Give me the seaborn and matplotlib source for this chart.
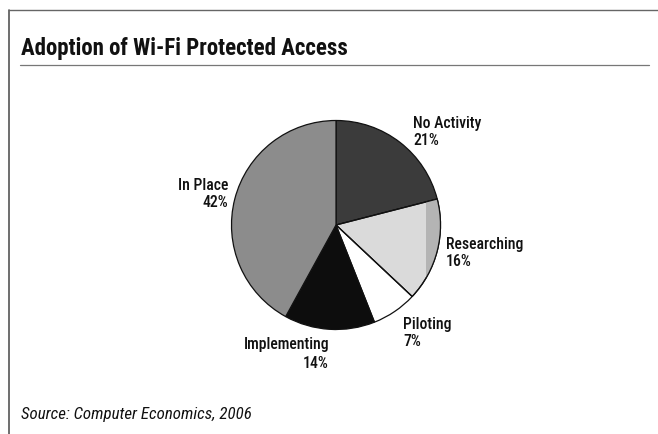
import matplotlib
matplotlib.use("Agg")
import matplotlib.pyplot as plt
from matplotlib import font_manager
from matplotlib.font_manager import FontProperties
from matplotlib.lines import Line2D
from matplotlib.patches import Rectangle
import seaborn as sns

# Survey shares, listed clockwise from 12 o'clock
categories = ["No Activity", "Researching", "Piloting", "Implementing", "In Place"]
shares = [21, 16, 7, 14, 42]
slice_colors = ["#3b3b3b", "#dadada", "#ffffff", "#0d0d0d", "#8c8c8c"]

title = "Adoption of Wi-Fi Protected Access"
source = "Source: Computer Economics, 2006"

sns.set_theme(style="white")

# pick a narrow grotesque face for all text
NARROW = ["Nimbus Sans Narrow", "Liberation Sans Narrow", "Roboto Condensed",
          "PT Sans Narrow", "Arial Narrow", "Archivo Narrow", "Barlow Semi Condensed",
          "Asap Condensed"]


def narrow_font(weight=400, style="normal", size=11):
    fonts = font_manager.fontManager.ttflist
    for fam in NARROW:
        cands = [f for f in fonts if f.name == fam]
        if not cands:
            continue
        same_style = [f for f in cands if f.style == style] or cands
        best = min(same_style, key=lambda f: abs(int(f.weight) - weight)
                   if str(f.weight).isdigit() else 999)
        return FontProperties(fname=best.fname, size=size)
    return FontProperties(family="DejaVu Sans", weight=weight, style=style,
                          stretch="condensed", size=size)


W, H = 658, 434
fig = plt.figure(figsize=(W / 100, H / 100), dpi=100)
fig.patch.set_facecolor("white")
ax = fig.add_axes([0, 0, 1, 1])

# pie: y is flipped below, so start at -90 and run counterclockwise in data
cx, cy, r = 336, 225, 104.5
wedges, _ = ax.pie(shares, colors=slice_colors, startangle=-90, counterclock=True,
                   center=(cx, cy), radius=r, frame=True,
                   wedgeprops=dict(edgecolor="#111111", linewidth=0.9))
ax.set_xlim(0, W)
ax.set_ylim(H, 0)
ax.set_aspect("equal")
ax.axis("off")

# darker shading band along the rim of the "Researching" slice
band = Rectangle((cx + 0.86 * r, cy - r), 0.14 * r, 2 * r,
                 facecolor="#b4b4b4", edgecolor="none", zorder=wedges[1].zorder + 0.1)
ax.add_patch(band)
band.set_clip_path(wedges[1])
rim = wedges[1].__class__(wedges[1].center, wedges[1].r, wedges[1].theta1,
                          wedges[1].theta2, facecolor="none", edgecolor="#111111",
                          linewidth=0.9, zorder=band.zorder + 0.1)
ax.add_patch(rim)

# outer frame (top and left edges visible)
ax.add_line(Line2D([9, 9], [H, 10], color="#555555", lw=1.2))
ax.add_line(Line2D([9, W], [10, 10], color="#666666", lw=1.0))

# title and rule
ax.text(21, 48, title, fontproperties=narrow_font(800, size=16.5), color="#111111",
        ha="left", va="center")
ax.add_line(Line2D([20, 649], [65, 65], color="#777777", lw=0.9))

# category labels with their percentages
lab_font = narrow_font(500, size=11.3)
label_style = dict(fontproperties=lab_font, color="#111111", linespacing=1.2,
                   va="center")
ax.text(413, 132, f"{categories[0]}\n{shares[0]}%", ha="left", **label_style)
ax.text(446, 253, f"{categories[1]}\n{shares[1]}%", ha="left", **label_style)
ax.text(403, 333, f"{categories[2]}\n{shares[2]}%", ha="left", **label_style)
ax.text(287, 345, f"{categories[3]}", ha="center", **label_style)
ax.text(329, 364, f"{shares[3]}%", ha="right", **label_style)
ax.text(228, 194, f"{categories[4]}\n{shares[4]}%", ha="right",
        multialignment="right", **label_style)

# source line
ax.text(21, 415, source, fontproperties=narrow_font(400, "italic", size=12.2),
        color="#111111", ha="left", va="center")

fig.savefig("out.png", dpi=100, facecolor="white")
